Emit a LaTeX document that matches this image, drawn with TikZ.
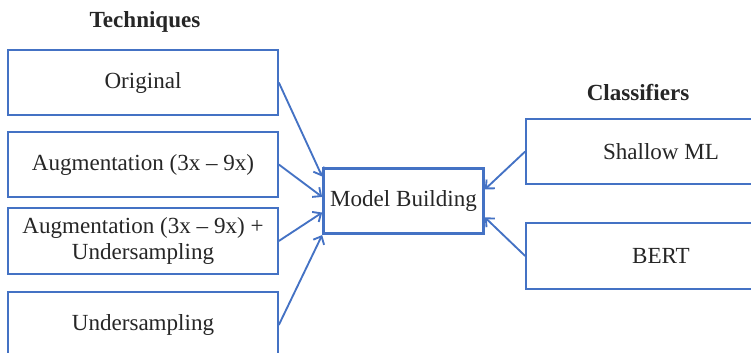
\documentclass[tikz,border=0pt]{standalone}
\usepackage{fontspec}
\setmainfont{Liberation Serif}
\usetikzlibrary{calc,arrows.meta}

\definecolor{boxblue}{HTML}{4472C4}
\definecolor{inkgray}{HTML}{262626}

\begin{document}
\begin{tikzpicture}[x=0.75pt, y=-0.75pt,
    every node/.style={font=\fontsize{17.3}{19.5}\selectfont, text=inkgray},
    box/.style={draw=boxblue, line width=1.7pt, minimum width=202pt, minimum height=49pt,
      inner sep=2pt, align=center},
    title/.style={font=\fontsize{17.3}{19.5}\selectfont\bfseries},
    link/.style={draw=boxblue, line width=1.4pt, -{Straight Barb[length=5pt,width=9pt]}}]
  \useasboundingbox (0,0) rectangle (751,353);

  % --- 标题 ---
  \node[title] (techt) at (145,22) {Techniques};
  \node[title] (clast) at (638,92) {Classifiers};

  % --- 左侧：方法 ---
  \node[box] (orig)  at (143,82.5)  {Original};
  \node[box] (aug)   at (143,164.5) {Augmentation (3x -- 9x)};
  \node[box] (augus) at (143,241)   {Augmentation (3x -- 9x) +\\Undersampling};
  \node[box, minimum height=50pt] (under) at (143,325) {Undersampling};

  % --- 中间 ---
  \node[box, line width=2pt, minimum width=120pt] (model) at (403.5,201) {Model Building};

  % --- 右侧：分类器 ---
  \node[box] (shallow) at (661,151.5) {Shallow ML};
  \node[box] (bert)    at (661,256)   {BERT};

  % --- 箭头（落点按左/右边比例）---
  \foreach \src/\f in {orig/0.14, aug/0.44, augus/0.67, under/1.0}
    \draw[link] (\src.east) -- ($(model.north west)!\f!(model.south west)$);
  \foreach \src/\f in {shallow/0.33, bert/0.74}
    \draw[link] (\src.west) -- ($(model.north east)!\f!(model.south east)$);
\end{tikzpicture}
\end{document}
